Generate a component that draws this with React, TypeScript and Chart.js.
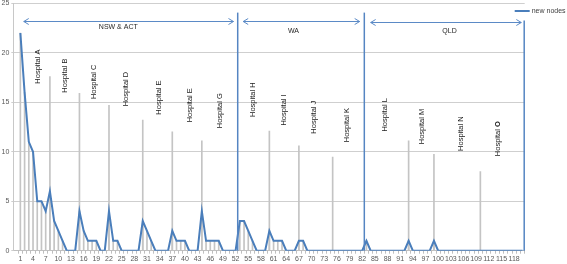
import React, { useEffect, useRef } from "react";
import { Chart, registerables } from "chart.js";

Chart.register(...registerables);

// ---------- data ----------
const categories: number[] = Array.from({ length: 120 }, (_, i) => i + 1);

const newNodes: number[] = [
  22, 16, 11, 10, 5, 5, 4, 6, 3, 2,
  1, 0, 0, 0, 4, 2, 1, 1, 1, 0,
  0, 4, 1, 1, 0, 0, 0, 0, 0, 3,
  2, 1, 0, 0, 0, 0, 2, 1, 1, 1,
  0, 0, 0, 4, 1, 1, 1, 1, 0, 0,
  0, 0, 3, 3, 2, 1, 0, 0, 0, 2,
  1, 1, 1, 0, 0, 0, 1, 1, 0, 0,
  0, 0, 0, 0, 0, 0, 0, 0, 0, 0,
  0, 0, 1, 0, 0, 0, 0, 0, 0, 0,
  0, 0, 1, 0, 0, 0, 0, 0, 1, 0,
  0, 0, 0, 0, 0, 0, 0, 0, 0, 0,
  0, 0, 0, 0, 0, 0, 0, 0, 0, 0,
];

const markerCats: number[] = [8, 15, 22, 30, 37, 44, 60, 67, 75, 93, 99, 110];
const markerValues: number[] = [17.6, 15.9, 14.7, 13.2, 12.0, 11.1, 12.1, 10.6, 9.45, 11.1, 9.75, 8.0];

const hospitalNames: string[] = [
  "Hospital A", "Hospital B", "Hospital C", "Hospital D", "Hospital E",
  "Hospital E", "Hospital G", "Hospital H", "Hospital I", "Hospital J",
  "Hospital K", "Hospital L", "Hospital M", "Hospital N", "Hospital O",
];

const regionNames: string[] = ["NSW & ACT", "WA", "QLD"];
const regionStarts: number[] = [1.8, 53.8, 84.0];
const regionEnds: number[] = [51.5, 81.4, 119.7];
const regionDividers: number[] = [52.5, 82.5];

const seriesName = "new nodes";
const yTicks: number[] = [0, 5, 10, 15, 20, 25];

// ---------- annotation layout (anchor in axis units) ----------
const hospitalLabelX: number[] = [5.15, 11.5, 18.5, 26.0, 33.8, 41.1, 48.3, 56.1, 63.4, 70.6, 78.4, 87.5, 96.2, 105.4, 114.2];
const hospitalLabelY: number[] = [16.88, 15.97, 15.32, 14.59, 13.75, 12.97, 12.37, 13.51, 12.64, 11.83, 10.96, 12.04, 10.76, 10.08, 9.55];
const regionLabelX: number[] = [24.2, 65.7, 102.7];
const regionLabelY: number[] = [22.58, 22.18, 22.18];
const regionArrowY: number[] = [23.26, 23.26, 23.08];
const dividerTop = 24.06;

const BLUE = "#4a7ebb";
const FONT = "'Liberation Sans', Arial, sans-serif";

const annotationPlugin = {
  id: "annotations",
  afterDatasetsDraw(chart: any) {
    const { ctx, scales, chartArea } = chart;
    const x = scales.x;
    const y = scales.y;
    ctx.save();

    // divider lines
    ctx.strokeStyle = "#5585c2";
    ctx.lineWidth = 1.5;
    regionDividers.forEach((c) => {
      const px = x.getPixelForValue(c);
      ctx.beginPath();
      ctx.moveTo(px, y.getPixelForValue(dividerTop));
      ctx.lineTo(px, y.getPixelForValue(0));
      ctx.stroke();
    });
    // right border line
    ctx.beginPath();
    ctx.moveTo(chartArea.right - 0.5, y.getPixelForValue(regionArrowY[0]));
    ctx.lineTo(chartArea.right - 0.5, y.getPixelForValue(0));
    ctx.stroke();

    // arrows
    ctx.strokeStyle = "#5b8ac6";
    ctx.lineWidth = 1;
    regionNames.forEach((_, i) => {
      const x1 = x.getPixelForValue(regionStarts[i]);
      const x2 = x.getPixelForValue(regionEnds[i]);
      const py = Math.round(y.getPixelForValue(regionArrowY[i])) + 0.5;
      ctx.beginPath();
      ctx.moveTo(x1, py);
      ctx.lineTo(x2, py);
      ctx.moveTo(x1 + 5, py - 3);
      ctx.lineTo(x1, py);
      ctx.lineTo(x1 + 5, py + 3);
      ctx.moveTo(x2 - 5, py - 3);
      ctx.lineTo(x2, py);
      ctx.lineTo(x2 - 5, py + 3);
      ctx.stroke();
    });

    // region labels
    ctx.fillStyle = "#262626";
    ctx.font = `7px ${FONT}`;
    ctx.textAlign = "center";
    ctx.textBaseline = "middle";
    regionNames.forEach((name, i) => {
      ctx.fillText(name, x.getPixelForValue(regionLabelX[i]), y.getPixelForValue(regionLabelY[i]));
    });

    // hospital labels (rotated)
    hospitalNames.forEach((name, i) => {
      const px = x.getPixelForValue(hospitalLabelX[i]);
      const py = y.getPixelForValue(hospitalLabelY[i]);
      ctx.save();
      ctx.translate(px, py);
      ctx.rotate(-Math.PI / 2);
      ctx.textAlign = "left";
      ctx.textBaseline = "middle";
      ctx.fillStyle = "#1a1a1a";
      if (i === hospitalNames.length - 1) {
        const head = name.slice(0, name.length - 1);
        const tail = name.slice(name.length - 1);
        ctx.font = `7.5px ${FONT}`;
        ctx.fillText(head, 0, 0);
        const w = ctx.measureText(head).width;
        ctx.font = `bold 7.5px ${FONT}`;
        ctx.fillText(tail, w, 0);
      } else {
        ctx.font = `7.5px ${FONT}`;
        ctx.fillText(name, 0, 0);
      }
      ctx.restore();
    });

    ctx.restore();
  },
  afterDraw(chart: any) {
    const { ctx, chartArea } = chart;
    ctx.save();
    const ly = 11;
    const lx = chartArea.right - 10;
    ctx.strokeStyle = BLUE;
    ctx.lineWidth = 2;
    ctx.beginPath();
    ctx.moveTo(lx, ly);
    ctx.lineTo(lx + 15, ly);
    ctx.stroke();
    ctx.fillStyle = "#404040";
    ctx.font = `7px ${FONT}`;
    ctx.textAlign = "left";
    ctx.textBaseline = "middle";
    ctx.fillText(seriesName, lx + 17, ly);
    ctx.restore();
  },
};

export default function App() {
  const canvasRef = useRef<HTMLCanvasElement | null>(null);

  useEffect(() => {
    const canvas = canvasRef.current;
    if (!canvas) return;
    const chart = new Chart(canvas, {
      type: "bar",
      data: {
        datasets: [
          {
            type: "line",
            label: seriesName,
            data: categories.map((c, i) => ({ x: c, y: newNodes[i] })),
            borderColor: BLUE,
            backgroundColor: BLUE,
            borderWidth: 2,
            pointRadius: 0,
            tension: 0,
            fill: false,
            order: 0,
          } as any,
          {
            type: "bar",
            label: "drop",
            data: categories.map((c, i) => ({ x: c, y: newNodes[i] })),
            backgroundColor: "#c4c4c4",
            barThickness: 1,
            grouped: false,
            order: 2,
          } as any,
          {
            type: "bar",
            label: "hospitals",
            data: markerCats.map((c, i) => ({ x: c, y: markerValues[i] })),
            backgroundColor: "#c4c4c4",
            barThickness: 1,
            grouped: false,
            order: 1,
          } as any,
        ],
      },
      options: {
        responsive: false,
        animation: false,
        layout: { padding: { top: 3.3, right: 42.3, left: 0, bottom: 0 } },
        plugins: { legend: { display: false }, tooltip: { enabled: false } },
        scales: {
          x: {
            type: "linear",
            min: -0.17,
            max: 120,
            afterBuildTicks: (scale: any) => {
              scale.ticks = categories.map((v) => ({ value: v }));
            },
            afterFit: (scale: any) => {
              scale.height = 13.3;
              scale.paddingLeft = 0;
              scale.paddingRight = 0;
            },
            ticks: {
              autoSkip: false,
              maxRotation: 0,
              minRotation: 0,
              padding: 1,
              color: "#595959",
              font: { size: 7, family: FONT },
              callback: (value: any) => ((Number(value) - 1) % 3 === 0 ? String(value) : ""),
            },
            grid: { drawOnChartArea: false, drawTicks: true, tickLength: 3, color: "#bfbfbf" },
            border: { display: true, color: "#bfbfbf" },
          },
          y: {
            min: 0,
            max: 25,
            afterBuildTicks: (scale: any) => {
              scale.ticks = yTicks.map((v) => ({ value: v }));
            },
            afterFit: (scale: any) => {
              scale.width = 13.3;
              scale.paddingTop = 0;
              scale.paddingBottom = 0;
            },
            ticks: {
              padding: 2,
              color: "#595959",
              font: { size: 7, family: FONT },
            },
            grid: { color: "#cfcfcf", tickLength: 2 },
            border: { display: true, color: "#c8c8c8" },
          },
        },
      },
      plugins: [annotationPlugin],
    } as any);
    return () => chart.destroy();
  }, []);

  return (
    <div style={{ position: "absolute", left: 0, top: 0, width: 567, height: 264, background: "#fff" }}>
      <canvas ref={canvasRef} width={567} height={264} style={{ display: "block" }} />
    </div>
  );
}
